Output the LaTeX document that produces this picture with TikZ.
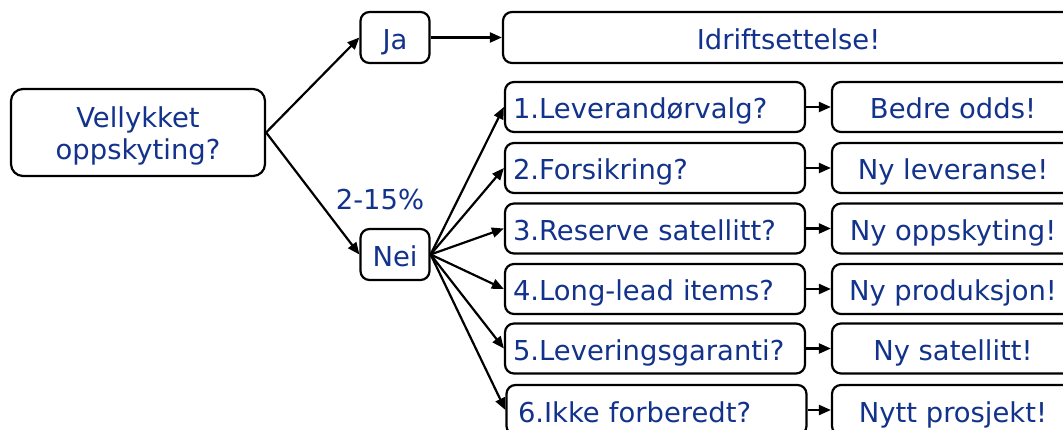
\documentclass[tikz,border=0pt]{standalone}
\usepackage{fontspec}
\setmainfont{DejaVu Sans}
\usetikzlibrary{arrows.meta}
\definecolor{txtblue}{RGB}{18,50,140}
\begin{document}
\begin{tikzpicture}[x=1pt,y=-1pt,
  txtfont/.style={font=\fontsize{27.4}{32}\selectfont},
  box/.style={draw=black, line width=2.2pt, rounded corners=9pt, fill=white,
    text=txtblue, txtfont, text height=24pt, text depth=0pt,
    inner sep=0pt, minimum height=50pt},
  qbox/.style={box, align=left, text width=284pt, inner xsep=8pt, minimum width=300pt},
  abox/.style={box, minimum width=242pt},
  lbl/.style={text=txtblue, txtfont, inner sep=0pt, anchor=base},
  arr/.style={line width=2.2pt, -{Triangle[length=12pt,width=10pt]}},
]
\useasboundingbox (0,0) rectangle (1063,430);
\clip (0,0) rectangle (1063,430);

% launch question
\node[box, minimum width=254pt, minimum height=87pt, rounded corners=12pt] (q) at (138,132.5) {};
\node[lbl] (q1) at (138,128) {Vellykket};
\node[lbl] (q2) at (138,160) {oppskyting?};

% yes / no
\node[box, minimum width=69pt, minimum height=51pt] (ja) at (395,37.5) {Ja};
\node[box, minimum width=69pt, minimum height=51pt] (nei) at (395,254.5) {Nei};
\node[lbl] (pct) at (380,210) {2-15\%};

% success outcome
\node[box, minimum width=571pt, minimum height=51pt] (idr) at (788.5,37.5) {Idriftsettelse!};

% failure questions
\node[qbox] (l1) at (655,107)   {1.Leverandørvalg?};
\node[qbox] (l2) at (655,168)   {2.Forsikring?};
\node[qbox] (l3) at (655,228.5) {3.Reserve satellitt?};
\node[qbox] (l4) at (655,289)   {4.Long-lead items?};
\node[qbox] (l5) at (655,348.5) {5.Leveringsgaranti?};
\node[qbox, inner xsep=11pt, text width=277pt] (l6) at (656.5,410) {6.Ikke forberedt?};

% consequences
\node[abox] (r1) at (953,107)   {Bedre odds!};
\node[abox] (r2) at (953,168)   {Ny leveranse!};
\node[abox] (r3) at (953,228.5) {Ny oppskyting!};
\node[abox] (r4) at (953,289)   {Ny produksjon!};
\node[abox] (r5) at (953,348.5) {Ny satellitt!};
\node[abox] (r6) at (953,410)   {Nytt prosjekt!};

% connectors
\draw[arr] (q.east) -- (ja.west);
\draw[arr] (q.east) -- (nei.west);
\draw[arr] (ja.east) -- (idr.west);
\foreach \i in {1,...,6}{
  \draw[arr] (nei.east) -- (l\i.west);
  \draw[arr] (l\i.east) -- (r\i.west);
}
\end{tikzpicture}
\end{document}
